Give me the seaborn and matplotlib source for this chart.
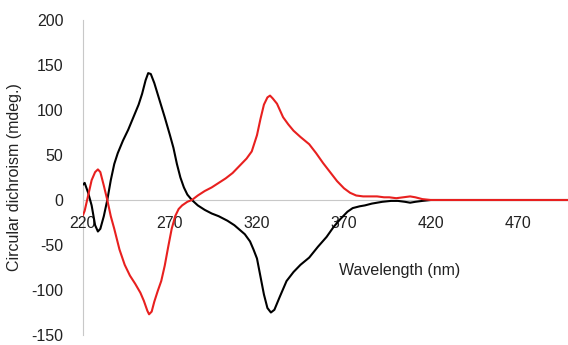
import matplotlib
matplotlib.use("Agg")
import matplotlib.pyplot as plt
import seaborn as sns
import pandas as pd

# wavelengths (nm) and CD values (mdeg.)
black_wl = [220, 221, 223, 225, 227, 228.6, 230, 232, 234, 236, 238, 240, 243, 246, 249, 252,
            254, 256, 257.5, 259, 261, 264, 267, 270, 272, 274, 276, 278, 280, 282.6,
            286, 290, 294, 298, 303, 307, 310, 313, 316, 318, 320, 322, 324, 326, 328,
            330, 333, 337, 341, 345, 350, 355, 360, 364, 368, 372, 375, 379, 382, 386,
            392, 397, 401, 405, 408, 411, 415, 420, 440, 470, 500]
black_cd = [17, 19, 8, -6, -28, -35, -32, -18, 0, 22, 40, 52, 66, 78, 92, 106,
            118, 133, 141, 140, 130, 111, 92, 72, 58, 40, 25, 14, 6, 0,
            -6, -11, -15, -18, -23, -28, -33, -38, -46, -55, -65, -85, -105, -120, -125,
            -122, -108, -90, -80, -72, -64, -52, -41, -30, -21, -13, -9, -7, -6, -4,
            -2, -1, -1, -2, -3, -2, -1, 0, 0, 0, 0]

red_wl = [220, 221, 223, 225, 227, 228.6, 230, 232, 234, 236, 238, 241, 244, 247, 250, 253,
          255, 257, 258, 259.5, 261, 263, 265, 267, 269, 271, 273, 275, 277, 280, 282.6,
          286, 290, 294, 298, 302, 306, 310, 314, 317, 320, 322, 324, 326, 327.5, 329,
          331.5, 335, 338, 341, 345, 350, 354, 358, 362, 366, 370, 373.5, 377, 381,
          385, 389, 393, 396, 400, 404, 408, 411, 415, 420, 440, 470, 500]
red_cd = [-17, -12, 5, 22, 31, 34, 31, 16, 0, -18, -32, -55, -72, -84, -93, -103,
          -112, -123, -127, -124, -113, -101, -90, -73, -52, -32, -18, -10, -6, -2, 0,
          5, 10, 14, 19, 24, 30, 38, 46, 54, 72, 90, 106, 114, 116, 113,
          107, 92, 84, 77, 70, 62, 52, 41, 31, 21, 13, 8, 5, 4,
          4, 4, 3, 3, 2, 3, 4, 3, 1, 0, 0, 0, 0]

black_df = pd.DataFrame({"wl": black_wl, "cd": black_cd})
red_df = pd.DataFrame({"wl": red_wl, "cd": red_cd})

sns.set_style("white")
plt.rcParams["font.family"] = ["Liberation Sans", "DejaVu Sans"]
plt.rcParams["axes.unicode_minus"] = False

fig = plt.figure(figsize=(5.68, 3.45), dpi=100)
ax = fig.add_axes([0.146, 0.029, 0.854, 0.913])

sns.lineplot(data=black_df, x="wl", y="cd", color="black", linewidth=1.5, ax=ax, sort=False)
sns.lineplot(data=red_df, x="wl", y="cd", color="#e8201f", linewidth=1.5, ax=ax, sort=False)

ax.set_xlim(220, 498.7)
ax.set_ylim(-150, 200)
ax.set_xticks([220, 270, 320, 370, 420, 470])
ax.set_yticks([-150, -100, -50, 0, 50, 100, 150, 200])

for s in ["top", "right"]:
    ax.spines[s].set_visible(False)
ax.spines["bottom"].set_position(("data", 0))
ax.spines["left"].set_position(("data", 220))
for s in ["bottom", "left"]:
    ax.spines[s].set_color("#c8c8c8")
    ax.spines[s].set_linewidth(0.8)
    ax.spines[s].set_zorder(0)

ax.tick_params(axis="x", direction="inout", length=5, width=0.8, color="#c8c8c8",
               pad=9, labelsize=11.5, labelcolor="#222222")
ax.tick_params(axis="y", direction="out", length=4, width=0.8, color="#c8c8c8",
               pad=10, labelsize=11.5, labelcolor="#222222")

ax.set_xlabel("")
ax.set_ylabel("Circular dichroism (mdeg.)", fontsize=11.5, color="#222222", labelpad=7)
ax.text(402, -78, "Wavelength (nm)", fontsize=11.5, color="#222222", ha="center", va="center")

fig.savefig("out.png", dpi=100)
